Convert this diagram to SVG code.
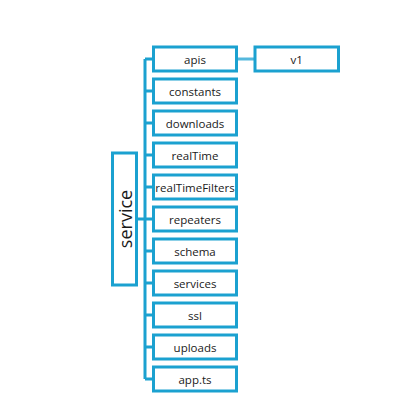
<svg xmlns="http://www.w3.org/2000/svg" width="412" height="415" viewBox="0 0 412 415">
<style>
.box{fill:#ffffff;stroke:#1ba1d0;stroke-width:3}
.lbl{font-family:"Open Sans","Noto Sans",sans-serif;font-size:11.5px;fill:#1a1a1a;text-anchor:middle;dominant-baseline:central}
.conn{fill:none;stroke:#1ba1d0;stroke-width:3}
.conn2{fill:none;stroke:#55b8dd;stroke-width:3}
</style>
<rect width="412" height="415" fill="#ffffff"/>
<g id="connectors">
<path class="conn" d="M137 219H145M145 59V379M145 59H153M145 91H153M145 123H153M145 155H153M145 187H153M145 219H153M145 251H153M145 283H153M145 315H153M145 347H153M145 379H153"/>
<path class="conn2" d="M238 59H254"/>
</g>
<g id="service"><rect class="box" x="112.5" y="153" width="24" height="132"/><text class="lbl" x="0" y="0" font-size="18" style="font-size:18px" transform="translate(124.5 219) rotate(-90)">service</text></g>
<g id="apis"><rect class="box" x="153.5" y="47" width="83" height="24"/><text class="lbl" x="195" y="59">apis</text></g>
<g id="v1"><rect class="box" x="255" y="47" width="83.5" height="24"/><text class="lbl" x="296.7" y="59">v1</text></g>
<g id="constants"><rect class="box" x="153.5" y="79" width="83" height="24"/><text class="lbl" x="195" y="91">constants</text></g>
<g id="downloads"><rect class="box" x="153.5" y="111" width="83" height="24"/><text class="lbl" x="195" y="123">downloads</text></g>
<g id="realTime"><rect class="box" x="153.5" y="143" width="83" height="24"/><text class="lbl" x="195" y="155">realTime</text></g>
<g id="realTimeFilters"><rect class="box" x="153.5" y="175" width="83" height="24"/><text class="lbl" x="195" y="187">realTimeFilters</text></g>
<g id="repeaters"><rect class="box" x="153.5" y="207" width="83" height="24"/><text class="lbl" x="195" y="219">repeaters</text></g>
<g id="schema"><rect class="box" x="153.5" y="239" width="83" height="24"/><text class="lbl" x="195" y="251">schema</text></g>
<g id="services"><rect class="box" x="153.5" y="271" width="83" height="24"/><text class="lbl" x="195" y="283">services</text></g>
<g id="ssl"><rect class="box" x="153.5" y="303" width="83" height="24"/><text class="lbl" x="195" y="315">ssl</text></g>
<g id="uploads"><rect class="box" x="153.5" y="335" width="83" height="24"/><text class="lbl" x="195" y="347">uploads</text></g>
<g id="app-ts"><rect class="box" x="153.5" y="367" width="83" height="24"/><text class="lbl" x="195" y="379">app.ts</text></g>
</svg>
